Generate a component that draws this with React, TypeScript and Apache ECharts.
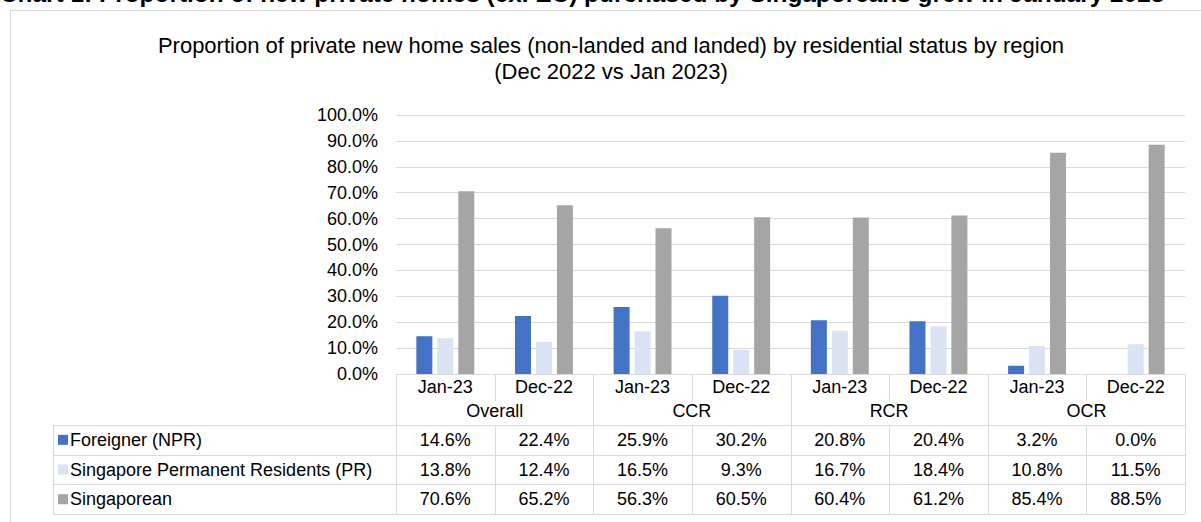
import React, { useEffect, useRef } from "react";
import * as echarts from "echarts";

const heading =
  "Chart 1: Proportion of new private homes (ex. EC) purchased by Singaporeans grew in January 2023";
const titleLines = [
  "Proportion of private new home sales (non-landed and landed) by residential status by region",
  "(Dec 2022 vs Jan 2023)",
];
const months = ["Jan-23", "Dec-22", "Jan-23", "Dec-22", "Jan-23", "Dec-22", "Jan-23", "Dec-22"];
const regions = ["Overall", "CCR", "RCR", "OCR"];
const seriesNames = ["Foreigner (NPR)", "Singapore Permanent Residents (PR)", "Singaporean"];
const foreigner = [14.6, 22.4, 25.9, 30.2, 20.8, 20.4, 3.2, 0.0];
const permanentResidents = [13.8, 12.4, 16.5, 9.3, 16.7, 18.4, 10.8, 11.5];
const singaporean = [70.6, 65.2, 56.3, 60.5, 60.4, 61.2, 85.4, 88.5];
const colors = ["#4472C4", "#DAE3F3", "#A5A5A5"];

const W = 1201;
const H = 522;
const PLOT_L = 396;
const PLOT_R = 1185;
const PLOT_T = 115;
const PLOT_B = 374;
const TABLE_L = 53;
const ROW_TOP = 425;
const ROW_H = 29.7;
const BORDER = "#D9D9D9";
const FONT = "Arial, 'Liberation Sans', sans-serif";

export default function App() {
  const ref = useRef<HTMLDivElement>(null);
  useEffect(() => {
    if (!ref.current) return;
    const chart = echarts.init(ref.current, undefined, { renderer: "svg", width: W, height: H });
    const seriesData = [foreigner, permanentResidents, singaporean];
    const cw = (PLOT_R - PLOT_L) / months.length;
    const g: any[] = [];
    const line = (x1: number, y1: number, x2: number, y2: number) =>
      g.push({
        type: "line",
        shape: { x1, y1, x2, y2 },
        style: { stroke: BORDER, lineWidth: 1 },
        silent: true,
      });
    const text = (t: string, x: number, y: number, size: number, align = "center", weight = "normal", fill = "#000") =>
      g.push({
        type: "text",
        x,
        y,
        style: {
          text: t,
          font: `${weight} ${size}px ${FONT}`,
          fill,
          textAlign: align,
          textVerticalAlign: "middle",
        },
        silent: true,
      });

    // frame
    g.push({
      type: "rect",
      shape: { x: 10.5, y: 10.5, width: W, height: H },
      style: { fill: "none", stroke: BORDER, lineWidth: 1 },
      silent: true,
    });
    // clipped heading (cut off at the top edge, as in the source)
    text(heading, 0, -7, 24.4, "left", "bold");
    // title
    titleLines.forEach((t, i) => text(t, 611, 45 + i * 26, 22));

    const rowsBottom = ROW_TOP + ROW_H * 3;
    // horizontal table lines
    for (let r = 0; r <= 3; r++) {
      const y = Math.round(ROW_TOP + r * ROW_H) + 0.5;
      line(TABLE_L, y, PLOT_R, y);
    }
    // vertical lines
    line(TABLE_L + 0.5, ROW_TOP, TABLE_L + 0.5, rowsBottom);
    for (let i = 0; i <= months.length; i++) {
      const x = Math.round(PLOT_L + i * cw) + 0.5;
      if (i % 2 === 0) {
        line(x, PLOT_B, x, rowsBottom);
      } else {
        line(x, PLOT_B, x, 401);
        line(x, ROW_TOP, x, rowsBottom);
      }
    }
    // region labels
    regions.forEach((r, i) => text(r, PLOT_L + (2 * i + 1) * cw, 411, 18));
    // data rows
    seriesNames.forEach((name, r) => {
      const yc = ROW_TOP + r * ROW_H + ROW_H / 2;
      g.push({
        type: "rect",
        shape: { x: 58, y: yc - 5, width: 10, height: 10 },
        style: { fill: colors[r] },
        silent: true,
      });
      text(name, 70, yc, 18, "left");
      seriesData[r].forEach((v, i) => text(v.toFixed(1) + "%", PLOT_L + (i + 0.5) * cw, yc, 18));
    });

    chart.setOption({
      animation: false,
      grid: { left: PLOT_L, right: W - PLOT_R, top: PLOT_T, bottom: H - PLOT_B, containLabel: false },
      xAxis: {
        type: "category",
        data: months,
        axisLine: { show: true, lineStyle: { color: BORDER, width: 1 } },
        axisTick: { show: false },
        axisLabel: { fontSize: 18, fontFamily: FONT, color: "#000", margin: 4, interval: 0 },
      },
      yAxis: {
        type: "value",
        min: 0,
        max: 100,
        interval: 10,
        axisLine: { show: false },
        axisTick: { show: false },
        splitLine: { lineStyle: { color: BORDER, width: 1 } },
        axisLabel: {
          fontSize: 18,
          fontFamily: FONT,
          color: "#000",
          margin: 18,
          formatter: (v: number) => v.toFixed(1) + "%",
        },
      },
      series: seriesNames.map((name, i) => ({
        type: "bar",
        name,
        data: seriesData[i],
        barWidth: 16,
        barGap: "31%",
        itemStyle: { color: colors[i] },
      })),
      graphic: { elements: g },
    });
    return () => chart.dispose();
  }, []);
  return (
    <div
      ref={ref}
      style={{ position: "fixed", left: 0, top: 0, width: W, height: H, background: "#fff" }}
    />
  );
}
